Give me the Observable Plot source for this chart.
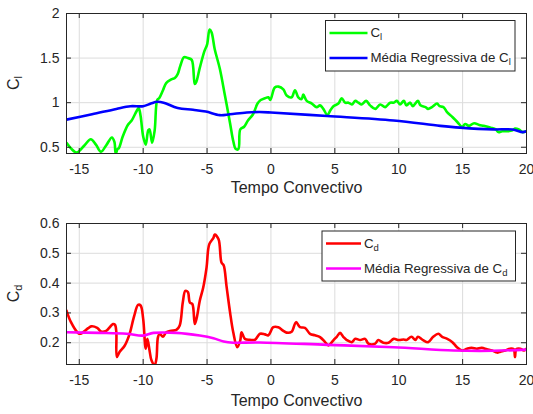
<!DOCTYPE html>
<html><head><meta charset="utf-8">
<script src="https://cdn.jsdelivr.net/npm/d3@7"></script>
<script src="https://cdn.jsdelivr.net/npm/@observablehq/plot@0.6"></script>
<style>
body{margin:0;background:#fff;}
#chart{width:533px;height:414px;}
#chart svg{display:block;}
</style></head><body><div id="chart"></div>
<script>
// ---- data ----
const xTicks = [-15, -10, -5, 0, 5, 10, 15, 20];
const clTicks = [0.5, 1, 1.5, 2];
const cdTicks = [0.2, 0.3, 0.4, 0.5, 0.6];
const xLabel = "Tempo Convectivo";

const clTime = [-16,-15.6,-15.2,-14.6,-14.1,-13.7,-13.3,-12.9,-12.45,-12.25,-12.15,-12.0,-11.9,-11.6,-11.2,-10.9,-10.5,-10.35,-10.2,-10.0,-9.8,-9.6,-9.5,-9.3,-9.1,-8.9,-8.75,-8.45,-8.2,-7.8,-7.5,-7.3,-7.1,-6.8,-6.5,-6.2,-5.96,-5.85,-5.57,-5.2,-5.0,-4.8,-4.65,-4.4,-4.0,-3.6,-3.2,-2.95,-2.75,-2.55,-2.4,-2.1,-1.8,-1.4,-1.05,-0.8,-0.47,-0.2,-0.05,0.3,0.6,0.97,1.23,1.62,1.88,2.14,2.4,2.53,2.8,3.2,3.58,3.84,4.1,4.42,4.63,4.89,5.28,5.54,5.8,6.07,6.33,6.6,6.85,7.1,7.45,7.76,8.16,8.55,8.94,9.33,9.6,9.86,10.1,10.4,10.6,10.9,11.1,11.5,11.7,12.1,12.3,12.6,13.0,13.2,13.5,13.8,14.2,14.6,14.96,15.2,15.5,15.9,16.3,16.65,17.2,17.6,17.8,18.1,18.5,18.9,19.1,19.4,19.7,20];
const clValues = [0.55,0.48,0.44,0.52,0.59,0.53,0.45,0.52,0.61,0.56,0.43,0.48,0.49,0.62,0.75,0.80,0.91,0.94,0.85,0.62,0.53,0.69,0.70,0.55,0.69,1.03,1.05,1.14,1.22,1.26,1.28,1.32,1.41,1.51,1.50,1.48,1.21,1.23,1.39,1.58,1.65,1.82,1.79,1.60,1.38,1.08,0.77,0.57,0.48,0.48,0.70,0.73,0.80,0.87,0.99,1.03,1.05,1.06,1.03,1.17,1.18,1.15,1.08,1.06,1.14,1.06,1.04,1.09,1.02,0.99,0.95,0.97,0.93,0.86,0.91,0.96,0.99,1.05,1.0,1.0,0.98,1.02,1.0,0.98,1.02,0.97,0.93,0.98,0.95,1.0,1.0,1.02,0.98,1.02,0.97,1.0,0.96,1.02,0.97,0.95,0.93,0.95,0.99,0.96,0.95,0.89,0.84,0.78,0.73,0.76,0.74,0.77,0.75,0.74,0.72,0.70,0.67,0.68,0.68,0.69,0.71,0.70,0.67,0.68];

const clMeanTime = [-16,-14,-12.1,-11,-10,-9.4,-8.9,-8.4,-7.3,-6.1,-5.1,-4.0,-3.2,-1.9,-0.9,0,4.4,9.6,13.25,14.8,17.4,18.9,19.7,20];
const clMeanValues = [0.81,0.87,0.93,0.96,0.96,0.99,1.01,1.0,0.94,0.92,0.90,0.86,0.87,0.89,0.895,0.89,0.85,0.80,0.74,0.72,0.70,0.70,0.67,0.68];

const cdTime = [-16,-15.65,-15.1,-14.9,-14.3,-14.07,-13.6,-13.3,-12.9,-12.35,-12.2,-12.1,-12.06,-11.85,-11.45,-11.06,-10.8,-10.7,-10.4,-10.2,-10.0,-9.8,-9.67,-9.5,-9.35,-9.1,-8.96,-8.84,-8.7,-8.45,-8.2,-7.8,-7.4,-7.14,-6.9,-6.7,-6.5,-6.35,-6.15,-5.96,-5.8,-5.57,-5.3,-5.04,-4.83,-4.5,-4.4,-4.1,-3.87,-3.7,-3.48,-3.2,-2.95,-2.64,-2.4,-2.3,-2.04,-1.65,-1.25,-0.86,-0.47,-0.2,0.18,0.57,0.97,1.23,1.62,1.96,2.27,2.66,3.06,3.45,3.84,4.24,4.5,4.9,5.15,5.41,5.67,5.93,6.33,6.6,6.98,7.37,7.63,8.16,8.4,8.8,9.2,9.6,10.0,10.4,10.6,11.0,11.3,11.5,11.9,12.3,12.7,13.1,13.4,13.8,14.2,14.56,14.96,15.35,15.7,16.1,16.5,16.9,17.3,17.7,17.95,18.35,18.7,19.0,19.1,19.2,19.5,19.8,20];
const cdValues = [0.308,0.269,0.233,0.23,0.249,0.255,0.25,0.238,0.24,0.263,0.26,0.235,0.152,0.169,0.19,0.23,0.274,0.29,0.327,0.325,0.28,0.18,0.213,0.174,0.141,0.125,0.147,0.219,0.23,0.22,0.235,0.24,0.243,0.258,0.335,0.374,0.37,0.335,0.33,0.263,0.285,0.341,0.385,0.452,0.53,0.552,0.563,0.547,0.469,0.46,0.391,0.302,0.235,0.185,0.208,0.235,0.213,0.21,0.21,0.23,0.228,0.225,0.252,0.252,0.24,0.234,0.237,0.269,0.252,0.25,0.23,0.225,0.219,0.202,0.191,0.209,0.22,0.233,0.219,0.209,0.202,0.213,0.209,0.213,0.197,0.197,0.209,0.2,0.2,0.213,0.209,0.211,0.209,0.22,0.209,0.22,0.209,0.202,0.22,0.23,0.22,0.213,0.202,0.185,0.174,0.18,0.183,0.18,0.183,0.178,0.174,0.167,0.17,0.174,0.18,0.178,0.152,0.178,0.18,0.174,0.18];

const cdMeanTime = [-16,-13.4,-11.3,-10,-9.2,-7.4,-5.57,-4.5,-3.7,-2.95,-0.9,4.4,9.6,14.3,17.4,20];
const cdMeanValues = [0.235,0.233,0.23,0.224,0.233,0.233,0.224,0.215,0.204,0.2,0.201,0.193,0.185,0.174,0.173,0.177];

// ---- drawing ----
const FONT = "'Liberation Sans', Arial, Helvetica, sans-serif";
const INK = "#262626";
const W = 533, H = 207, ML = 66, MR = 7;

const zip = (xs, ys) => xs.map((x, i) => ({x, y: ys[i]}));

function panel({mt, mb, yDomain, yTicks, series, yLabel, ySub, legend, xLabelDy}) {
  const fw = W - ML - MR, fh = H - mt - mb;
  const svg = Plot.plot({
    width: W, height: H, marginLeft: ML, marginRight: MR, marginTop: mt, marginBottom: mb,
    style: {fontFamily: FONT, fontSize: "14px", color: INK, background: "white", overflow: "visible"},
    x: {domain: [-16, 20]},
    y: {domain: yDomain},
    marks: [
      Plot.gridX(xTicks, {stroke: "#dcdcdc", strokeOpacity: 1}),
      Plot.gridY(yTicks, {stroke: "#dcdcdc", strokeOpacity: 1}),
      ...series.map(s => Plot.line(zip(s.t, s.v), {x: "x", y: "y", stroke: s.color, strokeWidth: 2.6, curve: "catmull-rom", clip: true})),
      Plot.tickX(xTicks, {x: d => d, insetTop: fh - 5, stroke: INK}),
      Plot.tickX(xTicks, {x: d => d, insetBottom: fh - 5, stroke: INK}),
      Plot.tickY(yTicks, {y: d => d, insetRight: fw - 5, stroke: INK}),
      Plot.tickY(yTicks, {y: d => d, insetLeft: fw - 5, stroke: INK}),
      Plot.axisX(xTicks, {tickSize: 0, tickPadding: 11, label: null, tickFormat: d => String(d), fontSize: 14}),
      Plot.axisY(yTicks, {tickSize: 0, tickPadding: 7, label: null, tickFormat: d => String(d), fontSize: 14}),
      Plot.frame({stroke: INK, strokeWidth: 1}),
      Plot.text([xLabel], {text: d => d, frameAnchor: "bottom", dy: xLabelDy, fontSize: 16, fill: INK})
    ]
  });
  const s = d3.select(svg);
  // y label with subscript
  const t = s.append("text")
    .attr("transform", `translate(19,${mt + fh / 2}) rotate(-90)`)
    .attr("text-anchor", "middle")
    .attr("fill", INK)
    .style("font-family", FONT)
    .style("font-size", "16px");
  t.append("tspan").text(yLabel);
  t.append("tspan").attr("dy", "0.3em").style("font-size", "11px").text(ySub);

  // legend
  const g = s.append("g").style("font-family", FONT).style("font-size", "13.3px").attr("text-anchor", "start");
  g.append("rect").attr("x", legend.x).attr("y", legend.y).attr("width", legend.w).attr("height", legend.h)
    .attr("fill", "white").attr("stroke", INK).attr("stroke-width", 1);
  legend.rows.forEach((r, i) => {
    const cy = legend.y + 12.5 + i * 25;
    g.append("line").attr("x1", legend.x + 4).attr("x2", legend.x + 4 + legend.lw).attr("y1", cy).attr("y2", cy)
      .attr("stroke", r.color).attr("stroke-width", 2.6);
    const tx = g.append("text").attr("x", legend.x + 7 + legend.lw).attr("y", cy).attr("dy", "0.32em")
      .attr("fill", INK).attr("text-anchor", "start");
    tx.append("tspan").text(r.text);
    tx.append("tspan").attr("dy", "0.3em").style("font-size", "9.5px").text(r.sub);
  });
  return svg;
}

const chart = document.getElementById("chart");
chart.append(panel({
  mt: 13, mb: 54, yDomain: [0.43, 2], yTicks: clTicks, yLabel: "C", ySub: "l", xLabelDy: 39,
  series: [
    {t: clTime, v: clValues, color: "#00ff00"},
    {t: clMeanTime, v: clMeanValues, color: "#0000ff"}
  ],
  legend: {x: 325.5, y: 20.5, w: 189.5, h: 50.5, lw: 38, rows: [
    {color: "#00ff00", text: "C", sub: "l"},
    {color: "#0000ff", text: "Média Regressiva de C", sub: "l"}
  ]}
}));
chart.append(panel({
  mt: 16, mb: 50, yDomain: [0.127, 0.6], yTicks: cdTicks, yLabel: "C", ySub: "d", xLabelDy: 41,
  series: [
    {t: cdTime, v: cdValues, color: "#ff0000"},
    {t: cdMeanTime, v: cdMeanValues, color: "#ff00ff"}
  ],
  legend: {x: 322, y: 24, w: 193.5, h: 50, lw: 35, rows: [
    {color: "#ff0000", text: "C", sub: "d"},
    {color: "#ff00ff", text: "Média Regressiva de C", sub: "d"}
  ]}
}));
</script>
</body></html>
